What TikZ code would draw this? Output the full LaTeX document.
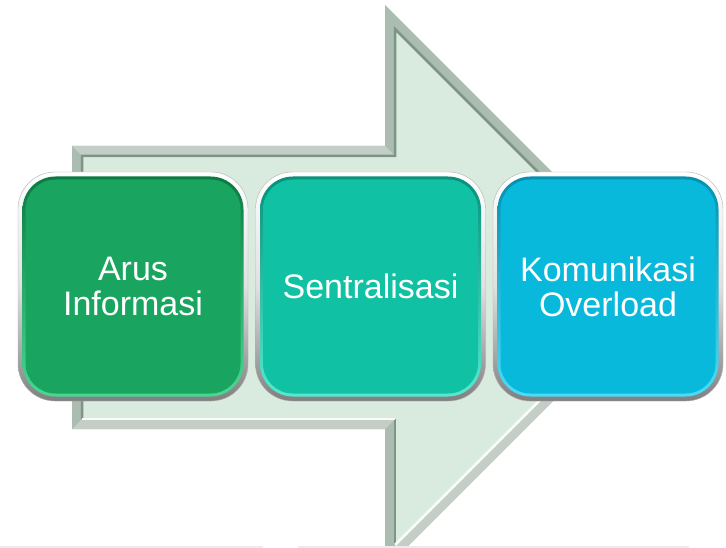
\documentclass[tikz,border=0pt]{standalone}
\usepackage{fontspec}
\setmainfont{Liberation Sans}
\definecolor{arrowface}{HTML}{D9EBDF}
\definecolor{arrowbevel}{HTML}{AABDB0}
\definecolor{arrowdark}{HTML}{7E9486}
\definecolor{gA}{HTML}{19A55F}
\definecolor{gAd}{HTML}{0B7A42}
\definecolor{gAl}{HTML}{48D892}
\definecolor{gB}{HTML}{10C1A3}
\definecolor{gBd}{HTML}{07907A}
\definecolor{gBl}{HTML}{55EAD0}
\definecolor{gC}{HTML}{08B9DC}
\definecolor{gCd}{HTML}{0590B0}
\definecolor{gCl}{HTML}{4ADCF6}
\begin{document}
\begin{tikzpicture}[x=1pt,y=-1pt,
  ring/.style={rounded corners=37pt, minimum width=230pt, minimum height=229pt,
    inner sep=0pt, top color=white, bottom color=black!50, middle color=black!12,
    draw=black!30, line width=0.4pt},
  rim/.style 2 args={rounded corners=33pt, minimum width=221pt, minimum height=220pt,
    inner sep=0pt, top color=#1, bottom color=#2},
  face/.style={rounded corners=30pt, minimum width=215pt, minimum height=214pt,
    inner sep=0pt, fill=#1, text=white, align=center,
    font=\fontsize{34}{35}\selectfont},
  darkedge/.style={draw=arrowdark, line width=2.5pt, line join=miter},
  lightedge/.style={draw=white!85!arrowface, line width=2.5pt, line join=miter},
]
\useasboundingbox (0,0) rectangle (726,548);
% big arrow
\coordinate (O1) at (72,146);  \coordinate (O2) at (385,146);
\coordinate (O3) at (385,5);   \coordinate (O4) at (667,287);
\coordinate (O5) at (385,569); \coordinate (O6) at (385,429);
\coordinate (O7) at (72,429);
\coordinate (I1) at (82,156);  \coordinate (I2) at (395,156);
\coordinate (I3) at (395,29);  \coordinate (I4) at (653,287);
\coordinate (I5) at (395,545); \coordinate (I6) at (395,419);
\coordinate (I7) at (82,419);
\fill[arrowbevel] (O1) -- (O2) -- (O3) -- (O4) -- (O5) -- (O6) -- (O7) -- cycle;
\fill[black!8!arrowbevel!60!white] (O1) -- (O2) -- (I2) -- (I1) -- cycle;
\fill[black!8!arrowbevel!60!white] (O6) -- (O7) -- (I7) -- (I6) -- cycle;
\fill[black!8!arrowbevel!60!white] (O4) -- (O5) -- (I5) -- (I4) -- cycle;
\fill[arrowface] (I1) -- (I2) -- (I3) -- (I4) -- (I5) -- (I6) -- (I7) -- cycle;
\draw[darkedge] (I7) -- (I1) -- (I2) -- (I3) -- (I4);
\draw[darkedge] (I5) -- (I6);
\draw[lightedge] (I4) -- (I5);
\draw[lightedge] (I6) -- (I7);
% faint base line
\draw[line width=2pt, black!8] (0,547) -- (263,547);
\draw[line width=2pt, black!8] (298,547) -- (689,547);
% boxes
\node[ring] (r1) at (133,286.5) {};
\node[rim={gAd}{gAl}] (e1) at (r1.center) {};
\node[face=gA] (b1) at (r1.center) {Arus\\Informasi};
\node[ring] (r2) at (370.5,286.5) {};
\node[rim={gBd}{gBl}] (e2) at (r2.center) {};
\node[face=gB] (b2) at (r2.center) {Sentralisasi};
\node[ring] (r3) at (608,286.5) {};
\node[rim={gCd}{gCl}] (e3) at (r3.center) {};
\node[face=gC] (b3) at (r3.center) {Komunikasi\\Overload};
\end{tikzpicture}
\end{document}
